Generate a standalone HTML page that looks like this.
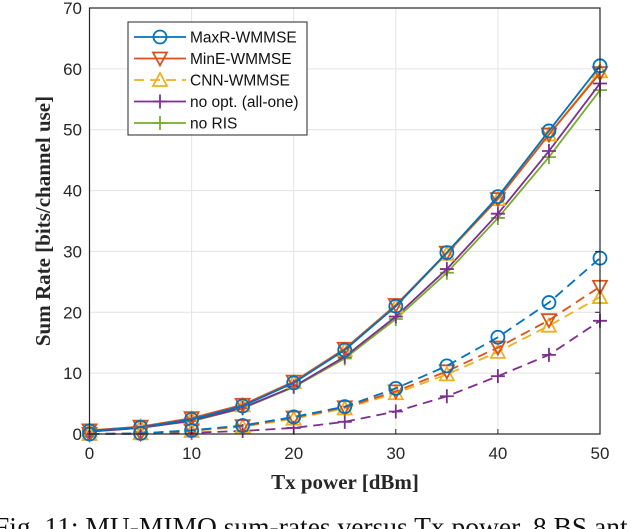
<!DOCTYPE html>
<html><head><meta charset="utf-8"><style>
body{margin:0;background:#fff;width:640px;height:529px;overflow:hidden}
svg{display:block}
</style></head><body>
<svg id="chart" width="640" height="529" xmlns="http://www.w3.org/2000/svg" font-family="Liberation Sans, sans-serif">
<g id="grid"></g>
<g id="series"></g>
<rect x="89.5" y="8" width="510.5" height="426" fill="none" stroke="#262626" stroke-width="1.2"/>
<g id="ticks" font-size="17" fill="#262626"></g>
<text x="345" y="489" text-anchor="middle" font-family="Liberation Serif, serif" font-weight="bold" font-size="21" fill="#262626">Tx power [dBm]</text>
<text transform="translate(50,221) rotate(-90)" text-anchor="middle" font-family="Liberation Serif, serif" font-weight="bold" font-size="21" fill="#262626">Sum Rate [bits/channel use]</text>
<text x="-6" y="536" font-family="Liberation Serif, serif" font-size="27.5" fill="#111">Fig. 11: MU-MIMO sum-rates versus Tx power, 8 BS ant</text>
<g id="legend"></g>
</svg>
<script>
const xTicks=[0,10,20,30,40,50];
const yTicks=[0,10,20,30,40,50,60,70];
const powers=[0,5,10,15,20,25,30,35,40,45,50];
const maxrSolid=[0.5,1.1,2.4,4.6,8.4,13.8,21.0,29.8,39.0,49.8,60.5];
const mineSolid=[0.6,1.2,2.6,4.8,8.6,14.0,21.2,29.8,38.6,49.2,59.3];
const cnnSolid=[0.6,1.2,2.5,4.7,8.5,13.8,21.0,29.6,38.6,49.2,59.6];
const allOneSolid=[0.4,1.0,2.2,4.3,7.8,12.7,19.3,27.1,36.2,46.5,57.6];
const noRisSolid=[0.4,1.0,2.1,4.2,7.7,12.4,18.9,26.5,35.5,45.5,56.5];
const maxrDashed=[0.0,0.1,0.6,1.4,2.8,4.5,7.5,11.2,15.9,21.6,28.9];
const mineDashed=[0.0,0.1,0.6,1.3,2.7,4.4,7.0,10.3,14.2,18.7,24.2];
const cnnDashed=[0.0,0.1,0.5,1.2,2.5,4.2,6.7,9.8,13.5,17.8,22.5];
const allOneDashed=[0.0,0.0,0.2,0.5,1.0,2.0,3.7,6.2,9.5,13.0,18.6];
const legendLabels=["MaxR-WMMSE","MinE-WMMSE","CNN-WMMSE","no opt. (all-one)","no RIS"];

const NS="http://www.w3.org/2000/svg";
const X0=89.5,X1=600,Y0=434,Y1=8;
const sx=v=>X0+(v-0)/(50-0)*(X1-X0);
const sy=v=>Y0-(v-0)/(70-0)*(Y0-Y1);
function mk(t,a,p){const e=document.createElementNS(NS,t);for(const k in a)e.setAttribute(k,a[k]);p.appendChild(e);return e;}
const grid=document.getElementById('grid'),ticks=document.getElementById('ticks'),ser=document.getElementById('series'),leg=document.getElementById('legend');
xTicks.forEach(v=>{
 const l=mk('line',{x1:sx(v),x2:sx(v),y1:Y1,y2:Y0,stroke:'#e3e3e3','stroke-width':1},grid);
 
 
 const tk=mk('line',{x1:sx(v),x2:sx(v),y1:Y0,y2:Y0-5,stroke:'#262626'},ticks);
 
 
 const t=mk('text',{x:sx(v),y:459,'text-anchor':'middle'},ticks);t.textContent=v;
 
 
});
yTicks.forEach(v=>{
 const l=mk('line',{x1:X0,x2:X1,y1:sy(v),y2:sy(v),stroke:'#e3e3e3','stroke-width':1},grid);
 
 
 const tk=mk('line',{x1:X1,x2:X1-5,y1:sy(v),y2:sy(v),stroke:'#262626'},ticks);
 
 
 const t=mk('text',{x:82,y:sy(v)+6,'text-anchor':'end'},ticks);t.textContent=v;
 
 
});
function marker(type,x,y,c,p){
 let e;
 if(type==='o')e=mk('circle',{cx:x,cy:y,r:6.5,fill:'none',stroke:c,'stroke-width':1.8},p);
 else if(type==='v')e=mk('path',{d:`M${x-7},${y-6}L${x+7},${y-6}L${x},${y+7}Z`,fill:'none',stroke:c,'stroke-width':1.8},p);
 else if(type==='^')e=mk('path',{d:`M${x-7},${y+6}L${x+7},${y+6}L${x},${y-7}Z`,fill:'none',stroke:c,'stroke-width':1.8},p);
 else e=mk('path',{d:`M${x-7},${y}L${x+7},${y}M${x},${y-7}L${x},${y+7}`,fill:'none',stroke:c,'stroke-width':1.8},p);
 
 
}
const defs=[
 [noRisSolid,'#77AC30','+',false,'no-ris-line'],
 [allOneSolid,'#7E2F8E','+',false,'all-one-line'],
 [cnnSolid,'#EDB120','^',false,'cnn-wmmse-line'],
 [mineSolid,'#D95319','v',false,'mine-wmmse-line'],
 [maxrSolid,'#0072BD','o',false,'maxr-wmmse-line'],
 [allOneDashed,'#7E2F8E','+',true,'all-one-dashed-line'],
 [cnnDashed,'#EDB120','^',true,'cnn-wmmse-dashed-line'],
 [mineDashed,'#D95319','v',true,'mine-wmmse-dashed-line'],
 [maxrDashed,'#0072BD','o',true,'maxr-wmmse-dashed-line']
];
defs.forEach(([vals,c,m,dash,name])=>{
 const g=mk('g',{},ser);
 
 
 const pts=vals.map((v,i)=>sx(powers[i])+','+sy(v)).join(' ');
 const a={points:pts,fill:'none',stroke:c,'stroke-width':1.8};
 if(dash)a['stroke-dasharray']='10,6';
 mk('polyline',a,g);
 vals.forEach((v,i)=>marker(m,sx(powers[i]),sy(v),c,g));
});
const lb=mk('rect',{x:128,y:22,width:179,height:113,fill:'#fff',stroke:'#262626','stroke-width':1},leg);


const lc=[['#0072BD','o',false],['#D95319','v',false],['#EDB120','^',true],['#7E2F8E','+',false],['#77AC30','+',false]];
legendLabels.forEach((s,i)=>{
 const y=37+i*21.5;
 const g=mk('g',{},leg);
 
 
 const a={x1:134,x2:186,y1:y,y2:y,stroke:lc[i][0],'stroke-width':1.8};
 if(lc[i][2])a['stroke-dasharray']='10,6';
 mk('line',a,g);
 marker(lc[i][1],160,y,lc[i][0],g);
 const t=mk('text',{x:190,y:y+5.5,'font-size':15.5,fill:'#111'},g);t.textContent=s;
});
</script>
</body></html>
